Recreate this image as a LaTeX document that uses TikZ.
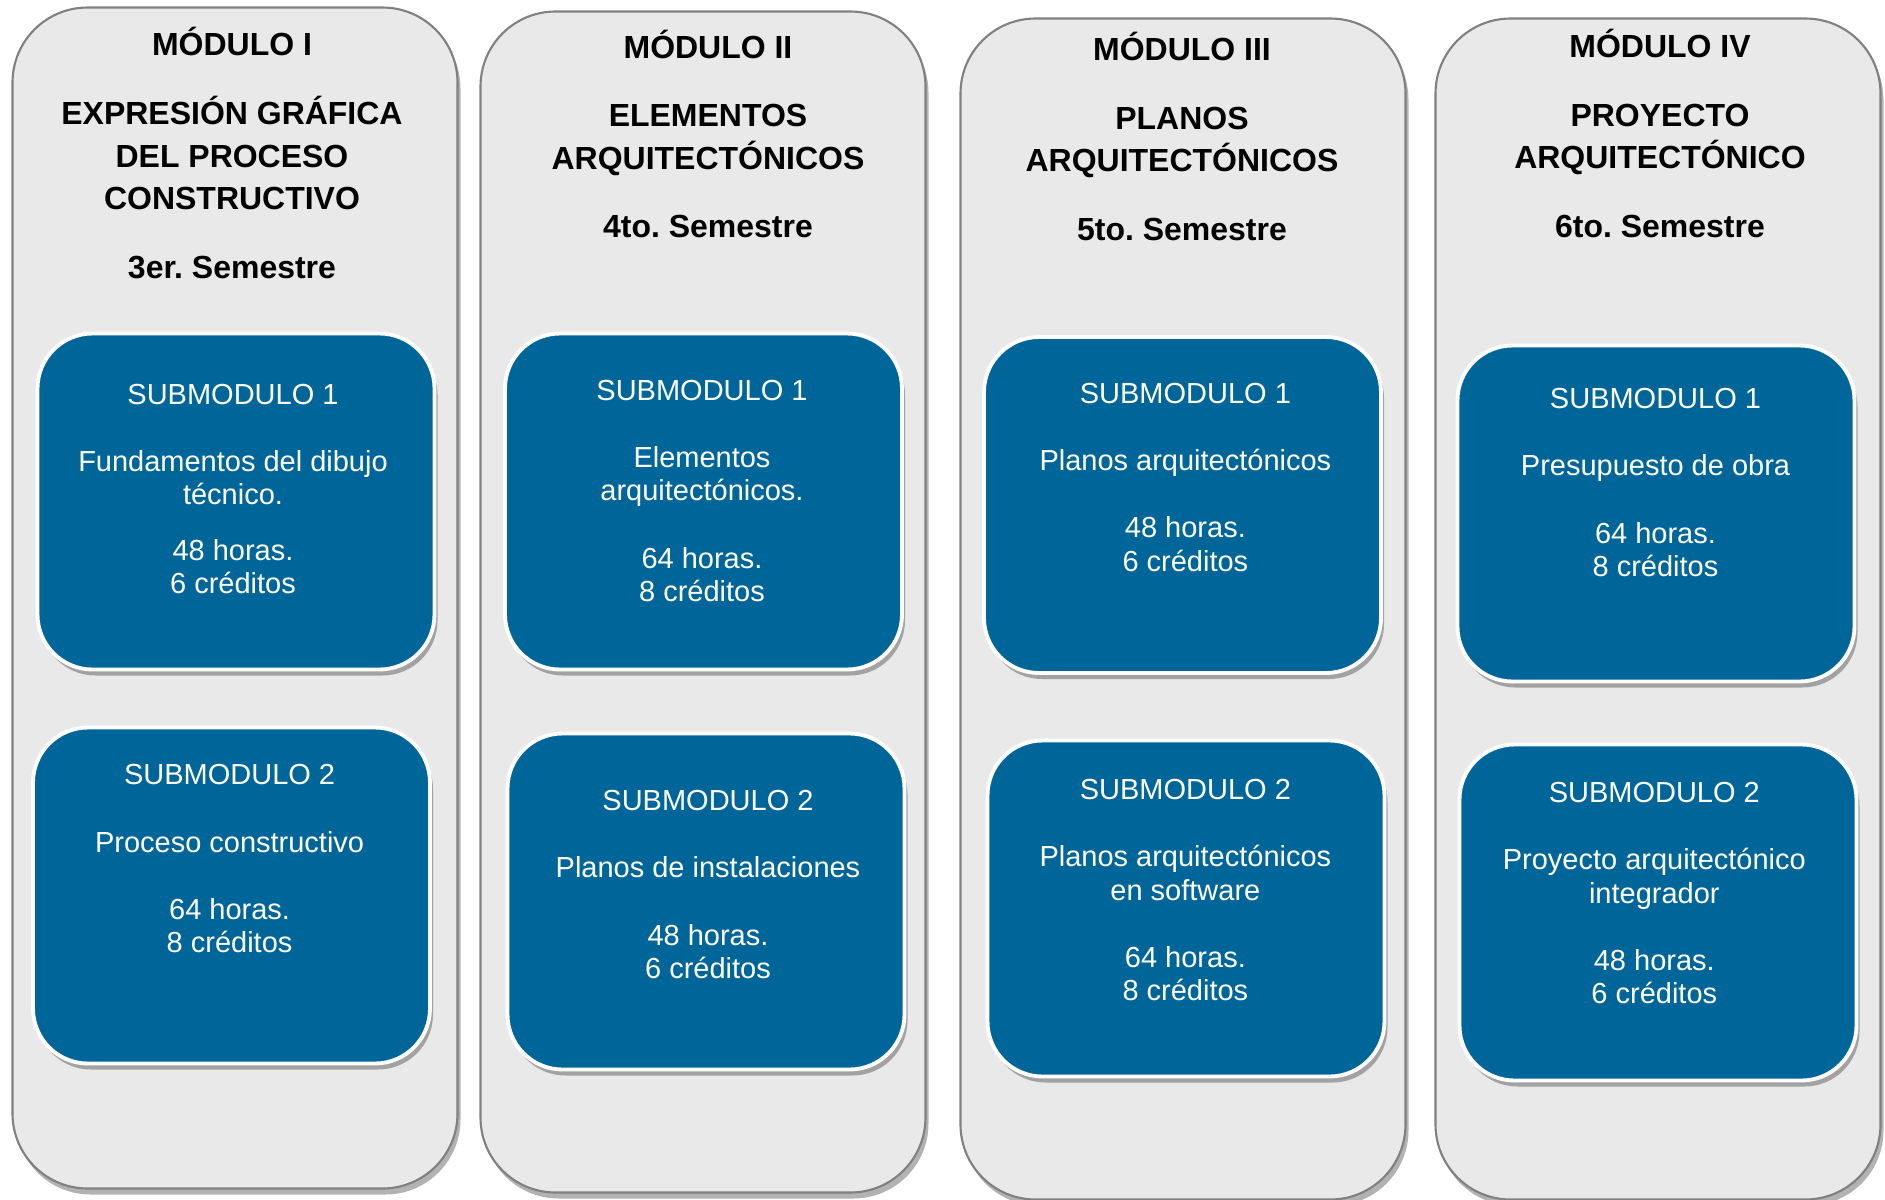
\documentclass[tikz,border=0pt]{standalone}
\usepackage{fontspec}
\setmainfont{Liberation Sans}
\frenchspacing
\usetikzlibrary{positioning, shadows}
\definecolor{modgray}{RGB}{233,233,233}
\definecolor{modedge}{RGB}{128,128,128}
\definecolor{subblue}{RGB}{0,102,153}

\begin{document}
\begin{tikzpicture}[x=0.1mm,y=-0.1mm,
    modbox/.style={draw=modedge,line width=0.6pt,fill=modgray,rounded corners=7.5mm,minimum width=44.5mm,minimum height=118.1mm,inner sep=0pt,drop shadow={shadow xshift=0.3mm,shadow yshift=-0.6mm,fill=black,opacity=0.3}},
    modtitle/.style={align=center,font=\bfseries\fontsize{9.1pt}{12.1pt}\selectfont,inner sep=0pt},
    subbox/.style={draw=white,line width=1.1pt,fill=subblue,rounded corners=5.5mm,minimum width=39.7mm,minimum height=33.6mm,inner sep=0pt,drop shadow={shadow xshift=0.3mm,shadow yshift=-0.6mm,fill=black,opacity=0.3}},
    subtext/.style={align=center,text=white,font=\fontsize{8.25pt}{9.56pt}\selectfont,inner sep=0pt}]
    \useasboundingbox (0,0) rectangle (1885,1199);
    % columns
    \node[modbox] (mod1) at (235,598) {};
    \node[modbox] (mod2) at (703,602) {};
    \node[modbox] (mod3) at (1183,609) {};
    \node[modbox] (mod4) at (1658,609) {};
    \node[modtitle] (tit1) at (232,153) {MÓDULO I\\[2.6mm] EXPRESIÓN GRÁFICA\\ DEL PROCESO\\ CONSTRUCTIVO\\[2.6mm] 3er. Semestre};
    \node[modtitle] (tit2) at (708,134) {MÓDULO II\\[2.6mm] ELEMENTOS\\ ARQUITECTÓNICOS\\[2.6mm] 4to. Semestre};
    \node[modtitle] (tit3) at (1182,136.5) {MÓDULO III\\[2.6mm] PLANOS\\ ARQUITECTÓNICOS\\[2.6mm] 5to. Semestre};
    \node[modtitle] (tit4) at (1660,133.5) {MÓDULO IV\\[2.6mm] PROYECTO\\ ARQUITECTÓNICO\\[2.6mm] 6to. Semestre};
    % submodules
    \node[subbox] (sub11) at (236,501.5) {};
    \node[subbox] (sub12) at (231.5,895.5) {};
    \node[subbox] (sub21) at (703.5,501.5) {};
    \node[subbox] (sub22) at (706,901.5) {};
    \node[subbox] (sub31) at (1182.5,505) {};
    \node[subbox] (sub32) at (1186,908.5) {};
    \node[subbox] (sub41) at (1656,513.5) {};
    \node[subbox] (sub42) at (1658,912.5) {};
    \node[subtext] (txt11) at (233,489) {SUBMODULO 1\\[3.36mm] Fundamentos del dibujo\\ técnico.\\[2.17mm] 48 horas.\\ 6 créditos};
    \node[subtext] (txt12) at (229.6,859) {SUBMODULO 2\\[3.36mm] Proceso constructivo\\[3.36mm] 64 horas.\\ 8 créditos};
    \node[subtext] (txt21) at (702,491) {SUBMODULO 1\\[3.36mm] Elementos\\ arquitectónicos.\\[3.36mm] 64 horas.\\ 8 créditos};
    \node[subtext] (txt22) at (708,884.8) {SUBMODULO 2\\[3.36mm] Planos de instalaciones\\[3.36mm] 48 horas.\\ 6 créditos};
    \node[subtext] (txt31) at (1185.4,477.2) {SUBMODULO 1\\[3.36mm] Planos arquitectónicos\\[3.36mm] 48 horas.\\ 6 créditos};
    \node[subtext] (txt32) at (1185.4,890.2) {SUBMODULO 2\\[3.36mm] Planos arquitectónicos\\ en software\\[3.36mm] 64 horas.\\ 8 créditos};
    \node[subtext] (txt41) at (1655.5,482.7) {SUBMODULO 1\\[3.36mm] Presupuesto de obra\\[3.36mm] 64 horas.\\ 8 créditos};
    \node[subtext] (txt42) at (1654.3,893.2) {SUBMODULO 2\\[3.36mm] Proyecto arquitectónico\\ integrador\\[3.36mm] 48 horas.\\ 6 créditos};
\end{tikzpicture}
\end{document}
